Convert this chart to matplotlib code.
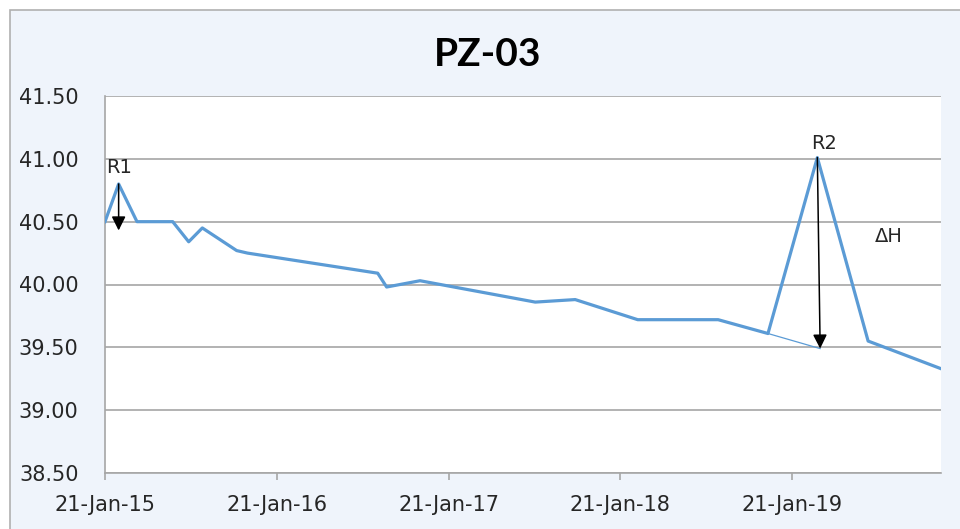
import numpy as np
import pandas as pd
import matplotlib
matplotlib.use('Agg')
import matplotlib.pyplot as plt
import matplotlib.dates as mdates
from matplotlib.patches import Rectangle

# water level readings for piezometer PZ-03
dates = ['2015-01-21', '2015-02-19', '2015-03-30', '2015-06-14', '2015-07-18',
         '2015-08-16', '2015-10-28', '2015-11-20', '2016-08-23', '2016-09-11',
         '2016-11-21', '2017-07-24', '2017-10-17', '2018-02-27', '2018-08-17',
         '2018-12-01', '2019-03-16', '2019-07-02', '2019-12-04']
levels = [40.50, 40.80, 40.50, 40.50, 40.34,
          40.45, 40.27, 40.25, 40.09, 39.98,
          40.03, 39.86, 39.88, 39.72, 39.72,
          39.61, 41.01, 39.55, 39.33]

# recession baseline under the R2 peak
base_dates = ['2018-12-01', '2019-03-22']
base_levels = [39.61, 39.49]

# arrows: (date, from level, to level)
r1_arrow = ('2015-02-19', 40.80, 40.43)
r2_arrow = ('2019-03-16', 41.01, '2019-03-22', 39.49)

tick_dates = ['2015-01-21', '2016-01-21', '2017-01-21', '2018-01-21', '2019-01-21']
x_range = ['2015-01-21', '2019-12-04']
y_ticks = [38.5, 39.0, 39.5, 40.0, 40.5, 41.0, 41.5]

x = pd.to_datetime(dates)
bg = '#EFF4FB'
grid_c = '#A6A6A6'

fig = plt.figure(figsize=(9.6, 5.29), dpi=100, facecolor='white')
# chart area background + border (chart box starts a bit inside the image)
frame = Rectangle((10 / 960, -0.1), 1.1, 1 - 10 / 529 + 0.1,
                  transform=fig.transFigure, facecolor=bg,
                  edgecolor='#B0B0B0', linewidth=1.2, zorder=-5)
fig.add_artist(frame)

ax = fig.add_axes([105 / 960, 1 - 473 / 529, (941 - 105) / 960, (473 - 96) / 529])
ax.set_zorder(2)
ax.set_facecolor('white')

ax.plot(x, levels, color='#5B9BD5', linewidth=2.3, zorder=3)
ax.plot(pd.to_datetime(base_dates), base_levels, color='#5B9BD5', linewidth=0.9, zorder=3)

arrow_kw = dict(arrowstyle='-|>', color='black', lw=1.1, mutation_scale=21,
                shrinkA=0, shrinkB=0)
d1 = pd.Timestamp(r1_arrow[0])
ax.annotate('', xy=(d1, r1_arrow[2]), xytext=(d1, r1_arrow[1]), arrowprops=arrow_kw, zorder=4)
ax.annotate('', xy=(pd.Timestamp(r2_arrow[2]), r2_arrow[3]),
            xytext=(pd.Timestamp(r2_arrow[0]), r2_arrow[1]), arrowprops=arrow_kw, zorder=4)

txt_kw = dict(fontsize=14, color='#262626', ha='center', va='center', family='DejaVu Sans')
ax.text(pd.Timestamp('2015-02-19'), 40.93, 'R1', **txt_kw)
ax.text(pd.Timestamp('2019-03-31'), 41.12, 'R2', **txt_kw)
ax.text(pd.Timestamp('2019-08-16'), 40.38, 'ΔH', **txt_kw)

ax.set_xlim(pd.Timestamp(x_range[0]), pd.Timestamp(x_range[1]))
ax.set_ylim(38.5, 41.5)
ax.set_xticks(pd.to_datetime(tick_dates))
ax.xaxis.set_major_formatter(mdates.DateFormatter('%d-%b-%y'))
ax.set_yticks(y_ticks)
ax.yaxis.set_major_formatter(matplotlib.ticker.FormatStrFormatter('%.2f'))

ax.grid(axis='y', color=grid_c, linewidth=1.2)
ax.set_axisbelow(True)
for s in ['top', 'right']:
    ax.spines[s].set_visible(False)
for s in ['left', 'bottom']:
    ax.spines[s].set_color(grid_c)
    ax.spines[s].set_linewidth(1.2)

ax.tick_params(axis='y', length=0, pad=19, labelsize=15, labelcolor='#262626')
ax.tick_params(axis='x', length=5, width=1.2, color=grid_c, pad=11,
               labelsize=15, labelcolor='#262626')

fig.text(488 / 960, 1 - 55 / 529, 'PZ-03', fontsize=28, fontweight='bold',
         family='Lato', ha='center', va='center', color='black')

fig.savefig('out.png', dpi=100, facecolor=fig.get_facecolor())
